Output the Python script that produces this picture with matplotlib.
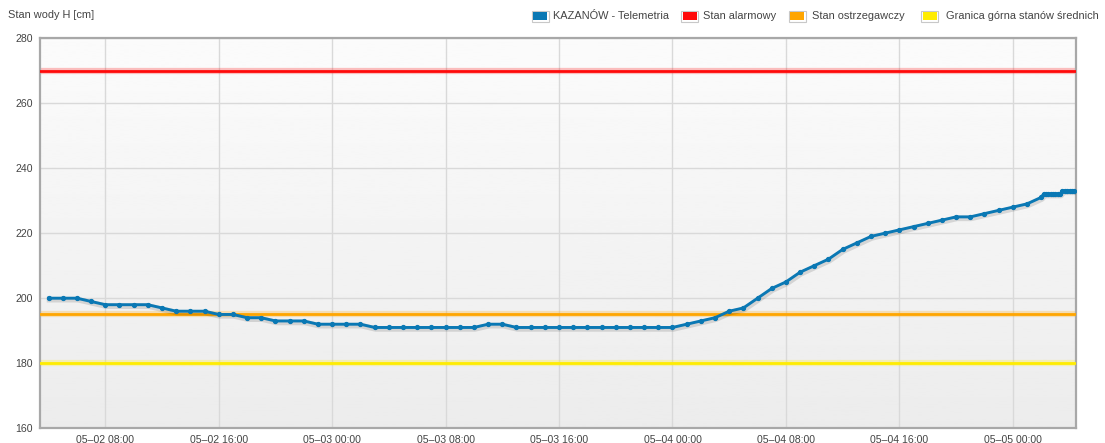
"""Water level chart: KAZANÓW telemetry with warning levels."""

from datetime import datetime, timedelta

import matplotlib

matplotlib.use("Agg")
import matplotlib.dates as mdates
import matplotlib.pyplot as plt
import matplotlib.transforms as mtransforms
import numpy as np
from matplotlib.patches import Rectangle

plt.rcParams["font.family"] = ["Liberation Sans", "DejaVu Sans"]

# hourly readings from 05-02 04:00
start = datetime(2024, 5, 2, 4, 0)
hourly_levels = [
    200, 200, 200, 199, 198, 198, 198, 198, 197, 196, 196, 196,
    195, 195, 194, 194, 193, 193, 193, 192, 192, 192, 192, 191,
    191, 191, 191, 191, 191, 191, 191, 192, 192, 191, 191, 191,
    191, 191, 191, 191, 191, 191, 191, 191, 191, 192, 193, 194,
    196, 197, 200, 203, 205, 208, 210, 212, 215, 217, 219, 220,
    221, 222, 223, 224, 225, 225, 226, 227, 228, 229, 231,
]
# 10-minute readings at the end (from 05-05 02:10)
dense_levels = [232, 232, 232, 232, 232, 232, 232, 232, 233, 233, 233, 233, 233, 233]

alarm_level = 270
warning_level = 195
mean_upper = 180

legend_labels = ["KAZANÓW - Telemetria", "Stan alarmowy", "Stan ostrzegawczy",
                 "Granica górna stanów średnich"]
colors = ["#0a78b4", "#ff0a0a", "#ffa500", "#ffec00"]

times = [start + timedelta(hours=i) for i in range(len(hourly_levels))]
last = times[-1]
times += [last + timedelta(minutes=10 * (i + 1)) for i in range(len(dense_levels))]
levels = hourly_levels + dense_levels

W, H = 1105, 443
fig = plt.figure(figsize=(W / 100, H / 100), dpi=100)
ax = fig.add_axes([40 / W, 1 - 428.3 / H, (1075.7 - 40) / W, (428.3 - 38) / H])

# gradient background
grad = np.linspace(0.985, 0.925, 256).reshape(-1, 1)
ax.imshow(grad, extent=[0, 1, 0, 1], transform=ax.transAxes, aspect="auto",
          cmap="gray", vmin=0, vmax=1, zorder=0)

x0 = mdates.date2num(datetime(2024, 5, 2, 3, 24))
x1 = mdates.date2num(datetime(2024, 5, 5, 4, 26))
ax.set_xlim(x0, x1)
ax.set_ylim(160, 280)
ax.set_yticks(range(160, 281, 20))
ax.xaxis.set_major_locator(mdates.HourLocator(byhour=[0, 8, 16]))
ax.xaxis.set_major_formatter(mdates.DateFormatter("%m–%d %H:%M"))
ax.grid(True, color="#d9d9d9", linewidth=1.0, zorder=1)
ax.set_axisbelow(True)

for s in ax.spines.values():
    s.set_color("#a8a8a8")
    s.set_linewidth(1.6)
ax.tick_params(length=0, labelsize=7.6, colors="#444444", pad=5)

# threshold lines
for lvl, c in zip([alarm_level, warning_level, mean_upper], colors[1:]):
    ax.axhline(lvl, color=c, linewidth=4.5, alpha=0.25, zorder=2)
    ax.axhline(lvl, color=c, linewidth=2.0, zorder=3)

# series with soft shadow
shadow = mtransforms.offset_copy(ax.transData, fig=fig, x=1, y=-1.5, units="dots")
ax.plot(times, levels, color="#000000", alpha=0.12, linewidth=4, transform=shadow, zorder=4)
ax.plot(times, levels, color=colors[0], linewidth=2.1, marker="o", markersize=2.8,
        zorder=5)

fig.text(8 / W, 1 - 15 / H, "Stan wody H [cm]", fontsize=7.9, color="#444444",
         va="center", ha="left")

# legend across the top right
box_x = [531.5, 681, 788.5, 921]
text_x = [553, 703, 812, 946]
for bx, tx, lab, c in zip(box_x, text_x, legend_labels, colors):
    fig.patches.append(Rectangle((bx / W, 1 - 21.5 / H), 17 / W, 10.5 / H,
                                 transform=fig.transFigure, facecolor="white",
                                 edgecolor="#c8c8c8", linewidth=0.8))
    fig.patches.append(Rectangle(((bx + 1.5) / W, 1 - 20.3 / H), 14 / W, 8.2 / H,
                                 transform=fig.transFigure, facecolor=c,
                                 edgecolor="none"))
    fig.text(tx / W, 1 - 16 / H, lab, fontsize=7.9, color="#444444",
             va="center", ha="left")

fig.savefig("out.png", dpi=100)
plt.close(fig)
